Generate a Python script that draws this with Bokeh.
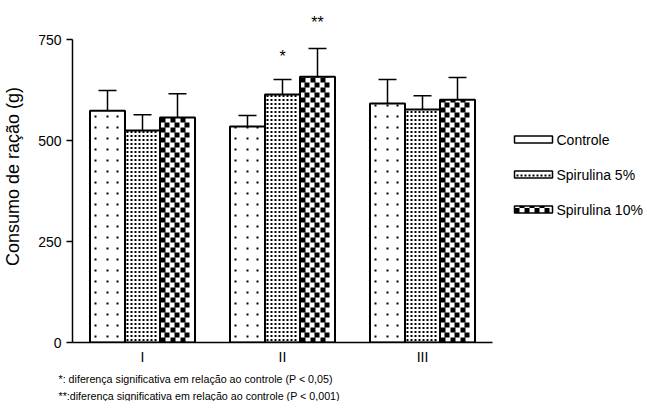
from bokeh.plotting import figure
from bokeh.models import ColumnDataSource, FixedTicker, Title, Whisker, TeeHead
from bokeh.core.properties import value
from bokeh.embed import file_html
from bokeh.resources import INLINE

groups = ["I", "II", "III"]
series = ["Controle", "Spirulina 5%", "Spirulina 10%"]
controle = [574, 535, 592]
spir5 = [525, 614, 577]
spir10 = [557, 658, 601]
err_controle = [50, 27, 59]
err_spir5 = [39, 37, 34]
err_spir10 = [59, 70, 55]
signif = {("Spirulina 5%", "II"): "*", ("Spirulina 10%", "II"): "**"}
footnotes = ["*: diferença significativa em relação ao controle (P < 0,05)",
             "**:diferença significativa em relação ao controle (P < 0,001)"]

FONT = "Liberation Sans"

# ---- layout (pixels) ----
FRAME_W, FRAME_H = 571, 332
PX_X = 140.0                 # pixels per category unit
X0 = 0.5
Y_END = 822.0
PX_Y = FRAME_H / Y_END       # pixels per data unit


def dx(px):   # frame px (from left) -> data x
    return X0 + px / PX_X


def dy(py):   # frame px (from bottom) -> data y
    return py / PX_Y


# fill patterns: (period, cell size, offset, checker)
PATTERNS = [(11, 2, 5, False), (4, 2, 1.5, False), (5, 5, 0, True)]


def pattern_cells(kind, left, bottom, w, h):
    period, size, off, checker = PATTERNS[kind]
    L, R, B, T = [], [], [], []
    i = 0
    while True:
        x0 = round(left + off + i * period)
        if x0 + size > left + w + 0.01:
            break
        j = 0
        while True:
            y0 = bottom + off + j * period
            if y0 >= bottom + h - 0.5:
                break
            y1 = min(y0 + size, bottom + h)
            if (not checker and y0 + size <= bottom + h) or (checker and (i + j) % 2 == 0):
                L.append(dx(x0)); R.append(dx(x0 + size))
                B.append(dy(y0)); T.append(dy(y1))
            j += 1
        i += 1
    return dict(left=L, right=R, bottom=B, top=T)


p = figure(width=639, height=392, output_backend="svg", toolbar_location=None,
           x_range=(X0, X0 + FRAME_W / PX_X), y_range=(0, Y_END),
           frame_width=FRAME_W, frame_height=FRAME_H,
           min_border_left=68, min_border_right=0, min_border_top=10, min_border_bottom=0)
p.xgrid.visible = False
p.ygrid.visible = False
p.outline_line_color = None
p.background_fill_color = None

width = 0.25
offsets = [-0.25, 0.0, 0.25]
vals = [controle, spir5, spir10]
errs = [err_controle, err_spir5, err_spir10]
for k, name in enumerate(series):
    xs = [i + 1 + offsets[k] for i in range(len(groups))]
    tops = [v + e for v, e in zip(vals[k], errs[k])]
    src = ColumnDataSource(dict(x=xs, top=vals[k], upper=tops))
    p.add_layout(Whisker(source=src, base="x", upper="upper", lower="top", dimension="height",
                         line_color="black", line_width=1.5, lower_head=None,
                         upper_head=TeeHead(size=18, line_color="black", line_width=1.5)))
    p.vbar(x="x", top="top", width=width, bottom=0, source=src,
           fill_color="white", line_color=None)
    for x, v in zip(xs, vals[k]):
        left_px = (x - width / 2 - X0) * PX_X
        cells = pattern_cells(k, left_px, 0, width * PX_X, v * PX_Y)
        p.quad(source=ColumnDataSource(cells), left="left", right="right",
               bottom="bottom", top="top", fill_color="black", line_color=None)
    p.vbar(x="x", top="top", width=width, bottom=0, source=src,
           fill_color=None, line_color="black", line_width=2)
    for (sname, g), mark in signif.items():
        if sname == name:
            gi = groups.index(g)
            p.text(x=[xs[gi]], y=[tops[gi]], text=[mark], text_align="center",
                   text_baseline="bottom", y_offset=-15 - 2 * (len(mark) - 1),
                   text_font=value(FONT), text_font_size="16px", text_color="black")

# ---- legend (drawn in the frame, right of the bars) ----
LEG_X, LEG_W, LEG_H = 442, 38, 7          # frame px
LEG_Y = [203, 168, 133]                   # frame px (centres, from bottom)
for k, name in enumerate(series):
    b = LEG_Y[k] - LEG_H / 2
    if k == 0:
        cells = pattern_cells(k, LEG_X, b + LEG_H - 3, LEG_W, 3)
        cells = dict(left=cells["left"], right=cells["right"],
                     bottom=[dy(b + LEG_H - 3)] * len(cells["left"]),
                     top=[dy(b + LEG_H - 1)] * len(cells["left"]))
    else:
        cells = pattern_cells(k, LEG_X, b, LEG_W, LEG_H)
    p.quad(left=[dx(LEG_X)], right=[dx(LEG_X + LEG_W)], bottom=[dy(b)], top=[dy(b + LEG_H)],
           fill_color="white", line_color=None)
    p.quad(source=ColumnDataSource(cells), left="left", right="right",
           bottom="bottom", top="top", fill_color="black", line_color=None)
    p.quad(left=[dx(LEG_X)], right=[dx(LEG_X + LEG_W)], bottom=[dy(b)], top=[dy(b + LEG_H)],
           fill_color=None, line_color="black", line_width=1.5)
    p.text(x=[dx(LEG_X + LEG_W + 4)], y=[dy(LEG_Y[k])], text=[name], text_align="left",
           text_baseline="middle", text_font=value(FONT), text_font_size="14px",
           text_color="black")

p.yaxis.ticker = FixedTicker(ticks=[0, 250, 500, 750])
p.yaxis.bounds = (0, 750)
p.yaxis.minor_tick_line_color = None
p.yaxis.major_tick_out = 6
p.yaxis.major_tick_in = 0
p.yaxis.axis_line_width = 1.5
p.yaxis.major_tick_line_width = 1.5
p.yaxis.major_label_text_font = FONT
p.yaxis.major_label_text_font_size = "14px"
p.yaxis.major_label_text_color = "black"
p.yaxis.axis_label = "Consumo de ração (g)"
p.yaxis.axis_label_text_font = FONT
p.yaxis.axis_label_text_font_size = "18px"
p.yaxis.axis_label_text_font_style = "normal"
p.yaxis.axis_label_text_color = "black"
p.yaxis.axis_label_standoff = 12

p.xaxis.ticker = FixedTicker(ticks=[1, 2, 3])
p.xaxis.major_label_overrides = {i + 1: g for i, g in enumerate(groups)}
p.xaxis.bounds = (0.5, 3.5)
p.xaxis.minor_tick_line_color = None
p.xaxis.major_tick_out = 0
p.xaxis.major_tick_in = 0
p.xaxis.axis_line_width = 1.5
p.xaxis.major_label_text_font = FONT
p.xaxis.major_label_text_font_size = "14px"
p.xaxis.major_label_text_color = "black"
p.xaxis.major_label_standoff = 6

for i, t in enumerate(footnotes):
    p.add_layout(Title(text=t, align="left", offset=-14, text_font=FONT,
                       text_font_size="10.7px", text_font_style="normal",
                       text_color="black", standoff=6 if i == 0 else 0), "below")

open("out.html", "w").write(file_html(p, INLINE))
